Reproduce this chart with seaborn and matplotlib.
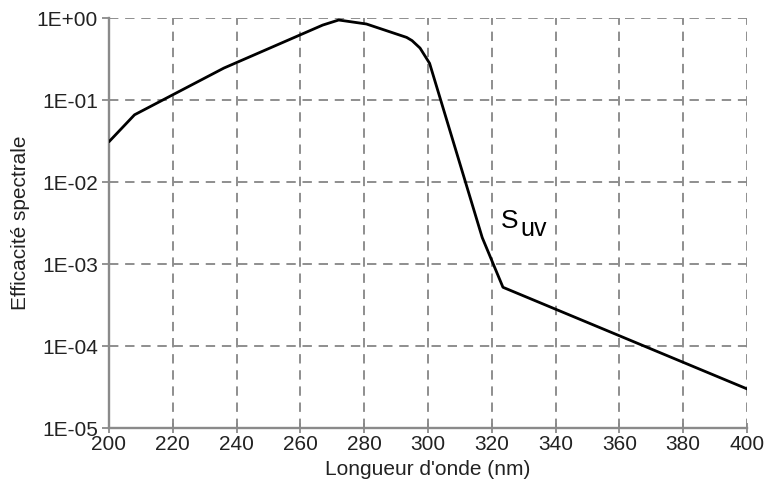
import matplotlib
matplotlib.use("Agg")
import matplotlib.pyplot as plt
import matplotlib.ticker as mticker
import seaborn as sns
import pandas as pd

# Data
wavelength = [200, 208, 236, 267, 272, 280.7, 293.3, 295, 297.5, 300.5, 317, 323.5, 400]
efficacy = [0.031, 0.066, 0.245, 0.82, 0.945, 0.845, 0.58, 0.53, 0.43, 0.28, 0.0021, 0.00052, 0.00003]
x_ticks = [200, 220, 240, 260, 280, 300, 320, 340, 360, 380, 400]
y_ticks = [1e-5, 1e-4, 1e-3, 1e-2, 1e-1, 1e0]
y_tick_labels = ["1E-05", "1E-04", "1E-03", "1E-02", "1E-01", "1E+00"]
x_label = "Longueur d'onde (nm)"
y_label = "Efficacité spectrale"
curve_label_main = "S"
curve_label_sub = "uv"

df = pd.DataFrame({"wl": wavelength, "s": efficacy})

sns.set_theme(style="white")
plt.rcParams["font.family"] = ["Liberation Sans", "DejaVu Sans"]

fig = plt.figure(figsize=(7.66, 4.86), dpi=100)
ax = fig.add_axes([109 / 766, 1 - 428 / 486, (747 - 109) / 766, (428 - 18) / 486])

grey = "#8a8a8a"
sns.lineplot(data=df, x="wl", y="s", ax=ax, color="black", lw=2.0, zorder=3)
ax.set_yscale("log")
ax.set_xlim(200, 400)
ax.set_ylim(1e-5, 1e0)

ax.set_xticks(x_ticks)
ax.set_xticklabels([str(v) for v in x_ticks])
ax.set_yticks(y_ticks)
ax.set_yticklabels(y_tick_labels)
ax.yaxis.set_minor_locator(mticker.NullLocator())

ax.grid(True, which="major", color=grey, linestyle=(0, (5, 3.6)), lw=1.35, zorder=1)
for s in ["top", "right"]:
    ax.spines[s].set_visible(False)
for s in ["left", "bottom"]:
    ax.spines[s].set_color(grey)
    ax.spines[s].set_linewidth(1.7)
    ax.spines[s].set_zorder(2)

ax.tick_params(axis="y", which="major", direction="out", length=5, width=1.3,
               color=grey, labelsize=15, labelcolor="#222222", left=True, pad=3)
ax.tick_params(axis="x", which="major", direction="inout", length=7, width=1.3,
               color=grey, labelsize=15, labelcolor="#222222", bottom=True, pad=1.5)

ax.set_xlabel(x_label, fontsize=15, color="#222222", labelpad=4)
ax.set_ylabel(y_label, fontsize=15, color="#222222", labelpad=5)

t = ax.text(322.8, 0.00275, curve_label_main, fontsize=19, color="black",
            va="baseline", ha="left")
ax.annotate(curve_label_sub, xy=(1, 0), xycoords=t, xytext=(1.5, -5.5),
            textcoords="offset points", fontsize=18, color="black",
            va="bottom", ha="left")

fig.savefig("out.png", dpi=100)
